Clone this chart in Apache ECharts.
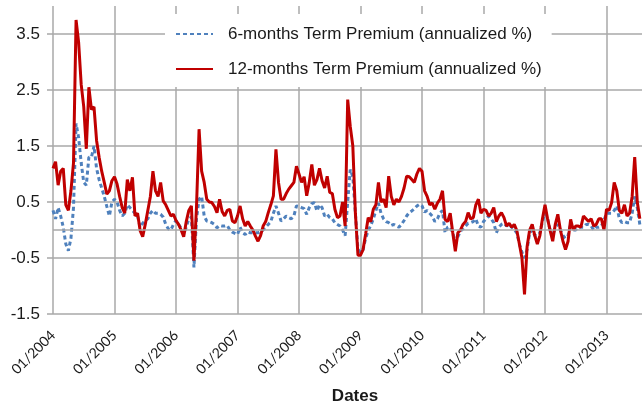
<!DOCTYPE html>
<html>
<head>
<meta charset="utf-8">
<script src="https://cdn.jsdelivr.net/npm/echarts@6/dist/echarts.min.js"></script>
<style>html,body{margin:0;padding:0;background:#fff}#c{width:642px;height:408px}</style>
</head>
<body>
<div id="c"></div>
<script>
// Semi-monthly observation dates (1st and 16th of each month), Jan 2004 - Jul 2013
const dates = [];
for (let y = 2004; y <= 2013; y++) {
  for (let m = 1; m <= 12; m++) {
    for (const d of [1, 16]) {
      if (dates.length < 230) dates.push(y + '-' + String(m).padStart(2, '0') + '-' + String(d).padStart(2, '0'));
    }
  }
}
const yearTicks = ['01/2004','01/2005','01/2006','01/2007','01/2008','01/2009','01/2010','01/2011','01/2012','01/2013'];
const yTickValues = [-1.5, -0.5, 0.5, 1.5, 2.5, 3.5];
const seriesNames = ['6-months Term Premium (annualized %)', '12-months Term Premium (annualized %)'];

const tp6 = [0.35, 0.2, 0.4, 0.25, 0.05, -0.25, -0.37, -0.15, 0.4, 1.9,
 1.65, 1.2, 0.85, 0.8, 1.3, 1.3, 1.5, 1.1, 0.9, 0.75,
 0.6, 0.42, 0.25, 0.5, 0.55, 0.5, 0.35, 0.25, 0.3, 0.45,
 0.4, 0.35, 0.3, 0.25, 0.05, 0.12, 0.17, 0.2, 0.3, 0.35,
 0.3, 0.3, 0.28, 0.23, 0.1, 0.02, 0.0, 0.1, 0.17, 0.1,
 0.03, -0.07, 0.05, 0.2, 0.23, -0.67, 0.2, 0.55, 0.6, 0.25,
 0.16, 0.15, 0.13, 0.1, 0.04, 0.08, 0.07, 0.07, 0.08, 0.0,
 -0.04, -0.06, -0.08, 0.05, -0.05, -0.08, -0.03, -0.05, -0.05, -0.05,
 -0.05, -0.03, 0.0, 0.05, 0.1, 0.15, 0.3, 0.43, 0.3, 0.16,
 0.2, 0.25, 0.22, 0.2, 0.25, 0.43, 0.42, 0.4, 0.38, 0.28,
 0.4, 0.47, 0.49, 0.34, 0.45, 0.4, 0.25, 0.28, 0.22, 0.2,
 0.13, 0.1, 0.07, 0.0, -0.1, 0.5, 1.08, 0.95, 0.3, -0.35,
 -0.4, -0.35, -0.15, -0.01, 0.08, 0.2, 0.35, 0.48, 0.3, 0.2,
 0.15, 0.13, 0.08, 0.1, 0.07, 0.05, 0.1, 0.17, 0.25, 0.31,
 0.34, 0.38, 0.43, 0.46, 0.43, 0.32, 0.35, 0.3, 0.25, 0.15,
 0.2, 0.3, 0.35, -0.05, 0.05, 0.05, -0.05, -0.22, -0.12, -0.02,
 0.02, 0.07, 0.12, 0.13, 0.15, 0.2, 0.07, 0.05, 0.15, 0.2,
 0.25, 0.2, 0.13, -0.05, 0.05, 0.1, 0.12, 0.07, 0.1, 0.05,
 0.0, -0.05, -0.25, -0.4, -0.5, -0.35, -0.05, 0.0, -0.1, -0.1,
 -0.05, 0.15, 0.3, 0.2, 0.0, -0.1, 0.05, 0.1, 0.0, -0.1,
 -0.15, -0.1, 0.12, 0.0, 0.0, 0.05, 0.05, 0.05, 0.1, 0.1,
 0.07, 0.0, 0.05, 0.05, 0.07, 0.17, 0.3, 0.3, 0.3, 0.35,
 0.43, 0.2, 0.13, 0.15, 0.13, 0.13, 0.3, 0.6, 0.4, 0.1];

const tp12 = [1.1, 1.22, 0.8, 1.05, 1.1, 0.45, 0.35, 0.7, 1.2, 3.75,
 3.35, 2.6, 2.2, 1.45, 2.55, 2.15, 2.2, 1.6, 1.3, 1.05,
 0.85, 0.64, 0.7, 0.88, 0.95, 0.82, 0.6, 0.4, 0.3, 0.9,
 0.7, 0.94, 0.25, 0.3, -0.01, -0.12, 0.1, 0.35, 0.6, 1.05,
 0.7, 0.6, 0.85, 0.52, 0.45, 0.35, 0.25, 0.28, 0.17, 0.1,
 0.0, -0.12, 0.15, 0.35, 0.43, -0.55, 0.42, 1.8, 1.05, 0.85,
 0.55, 0.5, 0.49, 0.42, 0.31, 0.55, 0.33, 0.25, 0.35, 0.37,
 0.16, 0.13, 0.25, 0.43, 0.2, 0.07, 0.15, 0.07, 0.0, -0.11,
 -0.2, -0.1, 0.07, 0.15, 0.31, 0.45, 0.61, 1.44, 0.85, 0.55,
 0.55, 0.65, 0.73, 0.79, 0.85, 1.14, 1.0, 0.85, 0.95, 0.61,
 0.85, 1.17, 0.8, 0.9, 1.1, 0.88, 0.75, 0.96, 0.67, 0.65,
 0.37, 0.22, 0.25, 0.5, 0.07, 2.33, 1.85, 1.5, 0.3, -0.45,
 -0.45, -0.35, -0.07, 0.22, 0.15, 0.37, 0.45, 0.85, 0.5, 0.55,
 0.4, 0.96, 0.6, 0.45, 0.55, 0.5, 0.6, 0.75, 0.96, 0.95,
 0.9, 0.85, 1.0, 1.1, 1.05, 0.7, 0.6, 0.45, 0.48, 0.37,
 0.48, 0.55, 0.7, 0.19, 0.15, 0.3, -0.05, -0.38, -0.05, 0.0,
 0.1, 0.15, 0.31, 0.2, 0.22, 0.45, 0.55, 0.3, 0.37, 0.35,
 0.25, 0.3, 0.4, 0.15, 0.25, 0.31, 0.22, 0.07, 0.12, 0.05,
 0.1, -0.01, -0.25, -0.5, -1.15, -0.3, 0.0, 0.1, -0.1, -0.25,
 -0.1, 0.2, 0.45, 0.2, -0.01, -0.2, 0.1, 0.28, 0.0, -0.2,
 -0.35, -0.2, 0.19, 0.0, 0.07, 0.07, 0.05, 0.25, 0.2, 0.15,
 0.2, 0.07, 0.1, 0.2, 0.2, 0.0, 0.37, 0.35, 0.49, 0.85,
 0.7, 0.35, 0.3, 0.45, 0.25, 0.3, 0.6, 1.3, 0.5, 0.2];

function toYear(s) {
  const p = s.split('-').map(Number);
  return p[0] + (p[1] - 1) / 12 + (p[2] - 1) / 360;
}
const xVals = dates.map(toYear);
const yearOf = yearTicks.map(t => Number(t.split('/')[1]));
const labelFor = {};
yearTicks.forEach(t => { labelFor[Number(t.split('/')[1])] = t; });

const grid = '#a8a8a8';
const chart = echarts.init(document.getElementById('c'), null, { renderer: 'canvas' });
chart.setOption({
  animation: false,
  backgroundColor: '#ffffff',
  grid: { left: 53, right: 0, top: 6, bottom: 94, containLabel: false, outerBoundsMode: 'none' },
  legend: {
    left: 165, top: 14, orient: 'vertical',
    backgroundColor: '#ffffff',
    padding: [10, 10, 8, 10],
    itemWidth: 37, itemHeight: 14, itemGap: 15,
    itemStyle: { opacity: 0 },
    textStyle: { fontFamily: 'Liberation Sans', fontSize: 17, color: '#1a1a1a', lineHeight: 20, padding: [0, 0, 0, 10] },
    data: seriesNames
  },
  xAxis: {
    type: 'value', min: yearOf[0], max: 2013.577, interval: 1,
    axisLine: { show: false }, axisTick: { show: false },
    splitLine: { show: true, showMaxLine: false, lineStyle: { color: grid, width: 1.5 } },
    axisLabel: {
      rotate: 45, margin: 19, showMaxLabel: false,
      fontFamily: 'Lato', fontSize: 14, color: '#1a1a1a',
      formatter: v => labelFor[Math.round(v)] || ''
    },
    name: 'Dates', nameLocation: 'middle', nameGap: 74,
    nameTextStyle: { fontFamily: 'Liberation Sans', fontWeight: 'bold', fontSize: 17, color: '#1a1a1a', padding: [0, 0, 0, 15] }
  },
  yAxis: {
    type: 'value', min: yTickValues[0], max: 4, interval: 1,
    axisLine: { show: false },
    axisTick: { show: true, length: 6, customValues: yTickValues, lineStyle: { color: grid, width: 1.5 } },
    splitLine: { show: true, lineStyle: { color: grid, width: 1.5 } },
    axisLabel: {
      customValues: yTickValues, margin: 13,
      fontFamily: 'Liberation Sans', fontSize: 17, color: '#1a1a1a',
      formatter: v => v.toFixed(1)
    }
  },
  series: [
    {
      name: seriesNames[0], type: 'line', symbol: 'none', showSymbol: false,
      data: xVals.map((x, i) => [x, tp6[i]]),
      lineStyle: { color: '#4f81bd', width: 3, type: [4, 3] },
      itemStyle: { color: '#4f81bd' },
      markLine: {
        silent: true, symbol: 'none', label: { show: false },
        lineStyle: { color: grid, width: 1.5, type: 'solid' },
        data: [{ yAxis: 0 }]
      },
      z: 2
    },
    {
      name: seriesNames[1], type: 'line', symbol: 'none', showSymbol: false,
      data: xVals.map((x, i) => [x, tp12[i]]),
      lineStyle: { color: '#c00000', width: 3 },
      itemStyle: { color: '#c00000' },
      z: 3
    }
  ]
});
</script>
</body>
</html>
